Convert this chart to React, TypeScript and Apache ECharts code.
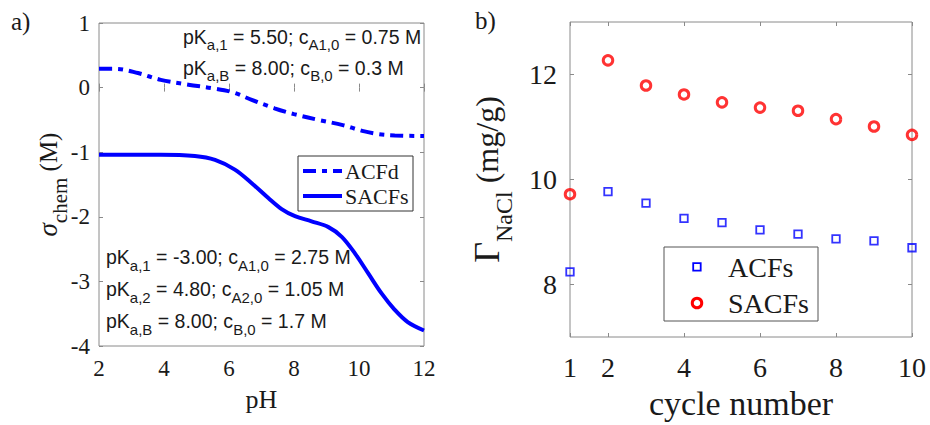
import React, { useEffect, useRef } from 'react';
import * as echarts from 'echarts';

// ---- Panel a) data: sigma_chem vs pH ----
const phACFd = [2, 2.5, 3.2, 3.9, 4.75, 5.5, 6.1, 6.7, 7.4, 8.0, 8.75, 9.5, 10.1, 10.6, 11.1, 12];
const sigmaACFd = [0.29, 0.29, 0.225, 0.12, 0.045, -0.01, -0.07, -0.19, -0.32, -0.41, -0.5, -0.58, -0.67, -0.72, -0.74, -0.75];
const phSACFs = [2, 3, 3.9, 4.95, 5.57, 6.18, 6.7, 7.21, 7.62, 8.03, 8.54, 9.06, 9.47, 9.88, 10.29, 10.7, 11.1, 11.5, 12];
const sigmaSACFs = [-1.04, -1.04, -1.04, -1.06, -1.12, -1.27, -1.48, -1.71, -1.88, -1.99, -2.07, -2.16, -2.31, -2.57, -2.88, -3.19, -3.44, -3.63, -3.76];
const phTicks = [2, 4, 6, 8, 10, 12];
const sigmaTicks = [-4, -3, -2, -1, 0, 1];

// ---- Panel b) data: Gamma_NaCl vs cycle number ----
const cycles = [1, 2, 3, 4, 5, 6, 7, 8, 9, 10];
const gammaACFs = [8.24, 9.77, 9.55, 9.26, 9.18, 9.04, 8.96, 8.87, 8.83, 8.7];
const gammaSACFs = [9.72, 12.27, 11.79, 11.62, 11.47, 11.37, 11.31, 11.15, 11.01, 10.85];
const cycleTicks = [1, 2, 4, 6, 8, 10];
const gammaTicks = [8, 10, 12];
const gammaRange = [7, 13];

const SERIF = 'Liberation Serif';
const SANS = 'Liberation Sans';
const TXT = '#1a1a1a';
const FRAME = '#8a8a8a';
const BLUE = '#0000ff';
const RED = '#ff0000';

function mirrorAxis(gridIndex: number, position: string, min: number, max: number, ticks: number[]) {
  return {
    type: 'value', gridIndex, position, min, max,
    axisLine: { show: false },
    axisTick: { show: true, inside: true, length: 4, customValues: ticks, lineStyle: { color: FRAME } },
    axisLabel: { show: false },
    splitLine: { show: false },
  };
}

export default function App() {
  const ref = useRef<HTMLDivElement>(null);
  useEffect(() => {
    if (!ref.current) return;
    const chart = echarts.init(ref.current, null, { renderer: 'svg' });

    const annRich = {
      m: { fontSize: 19.5, fontFamily: SANS, fill: TXT, lineHeight: 31 },
      s: { fontSize: 15, fontFamily: SANS, fill: TXT, lineHeight: 14, verticalAlign: 'bottom' },
    };
    const annRich2 = {
      m: { fontSize: 19.5, fontFamily: SANS, fill: TXT, lineHeight: 32 },
      s: { fontSize: 15, fontFamily: SANS, fill: TXT, lineHeight: 14, verticalAlign: 'bottom' },
    };

    const option: any = {
      animation: false,
      backgroundColor: '#ffffff',
      grid: [
        { left: 99, top: 23, width: 325, height: 323, show: true, borderColor: FRAME, borderWidth: 1, backgroundColor: 'transparent' },
        { left: 570, top: 22, width: 342, height: 315, show: true, borderColor: FRAME, borderWidth: 1, backgroundColor: 'transparent' },
      ],
      xAxis: [
        {
          type: 'value', gridIndex: 0, position: 'bottom', min: phTicks[0], max: phTicks[phTicks.length - 1],
          axisLine: { show: false },
          axisTick: { show: true, inside: true, length: 4, customValues: phTicks, lineStyle: { color: FRAME } },
          axisLabel: { customValues: phTicks, margin: 11, fontFamily: SERIF, fontSize: 23, lineHeight: 23, color: TXT },
          splitLine: { show: false },
          name: 'pH', nameLocation: 'middle', nameGap: 40, nameMoveOverlap: false,
          nameTextStyle: { fontFamily: SERIF, fontSize: 26, lineHeight: 26, color: TXT },
        },
        mirrorAxis(0, 'top', phTicks[0], phTicks[phTicks.length - 1], phTicks),
        {
          type: 'value', gridIndex: 1, position: 'bottom', min: cycleTicks[0], max: cycleTicks[cycleTicks.length - 1],
          axisLine: { show: false },
          axisTick: { show: true, inside: true, length: 4, customValues: cycleTicks, lineStyle: { color: FRAME } },
          axisLabel: { customValues: cycleTicks, margin: 16, fontFamily: SERIF, fontSize: 28, lineHeight: 28, color: TXT },
          splitLine: { show: false },
          name: 'cycle number', nameLocation: 'middle', nameGap: 49, nameMoveOverlap: false,
          nameTextStyle: { fontFamily: SERIF, fontSize: 34, lineHeight: 34, color: TXT },
        },
        mirrorAxis(1, 'top', cycleTicks[0], cycleTicks[cycleTicks.length - 1], cycleTicks),
      ],
      yAxis: [
        {
          type: 'value', gridIndex: 0, position: 'left', min: sigmaTicks[0], max: sigmaTicks[sigmaTicks.length - 1],
          axisLine: { show: false },
          axisTick: { show: true, inside: true, length: 4, customValues: sigmaTicks, lineStyle: { color: FRAME } },
          axisLabel: { customValues: sigmaTicks, margin: 9, fontFamily: SERIF, fontSize: 23, color: TXT },
          splitLine: { show: false },
          name: '{s|σ}{c|chem}{m| (M)}', nameLocation: 'middle', nameGap: 29, nameMoveOverlap: false,
          nameTextStyle: {
            color: TXT,
            rich: {
              s: { fontFamily: SERIF, fontStyle: 'italic', fontSize: 27, lineHeight: 44, color: TXT },
              c: { fontFamily: SERIF, fontSize: 21, lineHeight: 20, verticalAlign: 'bottom', color: TXT },
              m: { fontFamily: SERIF, fontSize: 25, lineHeight: 44, color: TXT },
            },
          },
        },
        mirrorAxis(0, 'right', sigmaTicks[0], sigmaTicks[sigmaTicks.length - 1], sigmaTicks),
        {
          type: 'value', gridIndex: 1, position: 'left', min: gammaRange[0], max: gammaRange[1],
          axisLine: { show: false },
          axisTick: { show: true, inside: true, length: 4, customValues: gammaTicks, lineStyle: { color: FRAME } },
          axisLabel: { customValues: gammaTicks, margin: 13, fontFamily: SERIF, fontSize: 28, color: TXT },
          splitLine: { show: false },
          name: '{g|Γ}{n|NaCl}{m| (mg/g)}', nameLocation: 'middle', nameGap: 54, nameMoveOverlap: false,
          nameTextStyle: {
            color: TXT,
            rich: {
              g: { fontFamily: SERIF, fontSize: 36, lineHeight: 58, color: TXT },
              n: { fontFamily: SERIF, fontSize: 24, lineHeight: 22, verticalAlign: 'bottom', color: TXT },
              m: { fontFamily: SERIF, fontSize: 32, lineHeight: 58, color: TXT },
            },
          },
        },
        mirrorAxis(1, 'right', gammaRange[0], gammaRange[1], gammaTicks),
      ],
      series: [
        {
          name: 'ACFd', type: 'line', xAxisIndex: 0, yAxisIndex: 0,
          data: phACFd.map((x, i) => [x, sigmaACFd[i]]),
          smooth: 0.35, showSymbol: false, symbol: 'none',
          lineStyle: { color: BLUE, width: 4, type: [13, 6, 5, 6], cap: 'butt' },
        },
        {
          name: 'SACFs', type: 'line', xAxisIndex: 0, yAxisIndex: 0,
          data: phSACFs.map((x, i) => [x, sigmaSACFs[i]]),
          smooth: 0.35, showSymbol: false, symbol: 'none',
          lineStyle: { color: BLUE, width: 4 },
        },
        {
          name: 'ACFs', type: 'scatter', xAxisIndex: 2, yAxisIndex: 2,
          data: cycles.map((x, i) => [x, gammaACFs[i]]),
          symbol: 'rect', symbolSize: 7.5,
          itemStyle: { color: 'transparent', borderColor: BLUE, borderWidth: 1.8 },
        },
        {
          name: 'SACFs ', type: 'scatter', xAxisIndex: 2, yAxisIndex: 2,
          data: cycles.map((x, i) => [x, gammaSACFs[i]]),
          symbol: 'circle', symbolSize: 9.5,
          itemStyle: { color: 'transparent', borderColor: RED, borderWidth: 3 },
        },
      ],
      graphic: [
        { type: 'text', x: 11, y: 21, style: { text: 'a)', fontFamily: SERIF, fontSize: 25, fill: TXT, verticalAlign: 'middle' } },
        { type: 'text', x: 475, y: 20, style: { text: 'b)', fontFamily: SERIF, fontSize: 25, fill: TXT, verticalAlign: 'middle' } },
        {
          type: 'text', x: 183, y: 21, z: 10,
          style: {
            text: '{m|pK}{s|a,1}{m| = 5.50; c}{s|A1,0}{m| = 0.75 M}\n{m|pK}{s|a,B}{m| = 8.00; c}{s|B,0}{m| = 0.3 M}',
            rich: annRich, align: 'left', verticalAlign: 'top',
          },
        },
        {
          type: 'text', x: 106, y: 241, z: 10,
          style: {
            text: '{m|pK}{s|a,1}{m| = -3.00; c}{s|A1,0}{m| = 2.75 M}\n{m|pK}{s|a,2}{m| = 4.80; c}{s|A2,0}{m| = 1.05 M}\n{m|pK}{s|a,B}{m| = 8.00; c}{s|B,0}{m| = 1.7 M}',
            rich: annRich2, align: 'left', verticalAlign: 'top',
          },
        },
        // legend a
        { type: 'rect', z: 20, shape: { x: 298, y: 156, width: 115, height: 55 }, style: { fill: '#ffffff', stroke: '#333333', lineWidth: 1 } },
        { type: 'line', z: 21, shape: { x1: 303, y1: 171, x2: 342, y2: 171 }, style: { stroke: BLUE, lineWidth: 4, lineDash: [13, 6, 5, 6] } },
        { type: 'text', z: 21, x: 345, y: 171, style: { text: 'ACFd', fontFamily: SERIF, fontSize: 22, fill: TXT, verticalAlign: 'middle' } },
        { type: 'line', z: 21, shape: { x1: 303, y1: 196, x2: 342, y2: 196 }, style: { stroke: BLUE, lineWidth: 4 } },
        { type: 'text', z: 21, x: 345, y: 196, style: { text: 'SACFs', fontFamily: SERIF, fontSize: 22, fill: TXT, verticalAlign: 'middle' } },
        // legend b
        { type: 'rect', z: 20, shape: { x: 664, y: 247, width: 154, height: 74 }, style: { fill: '#ffffff', stroke: '#555555', lineWidth: 1 } },
        { type: 'rect', z: 21, shape: { x: 693.2, y: 263.2, width: 7.5, height: 7.5 }, style: { fill: 'none', stroke: BLUE, lineWidth: 1.8 } },
        { type: 'text', z: 21, x: 728, y: 267, style: { text: 'ACFs', fontFamily: SERIF, fontSize: 28, fill: TXT, verticalAlign: 'middle' } },
        { type: 'circle', z: 21, shape: { cx: 697, cy: 303, r: 4.75 }, style: { fill: 'none', stroke: RED, lineWidth: 3 } },
        { type: 'text', z: 21, x: 728, y: 303, style: { text: 'SACFs', fontFamily: SERIF, fontSize: 28, fill: TXT, verticalAlign: 'middle' } },
      ],
    };
    chart.setOption(option);
    return () => chart.dispose();
  }, []);
  return <div ref={ref} style={{ position: 'fixed', left: 0, top: 0, width: 930, height: 425, background: '#fff' }} />;
}
